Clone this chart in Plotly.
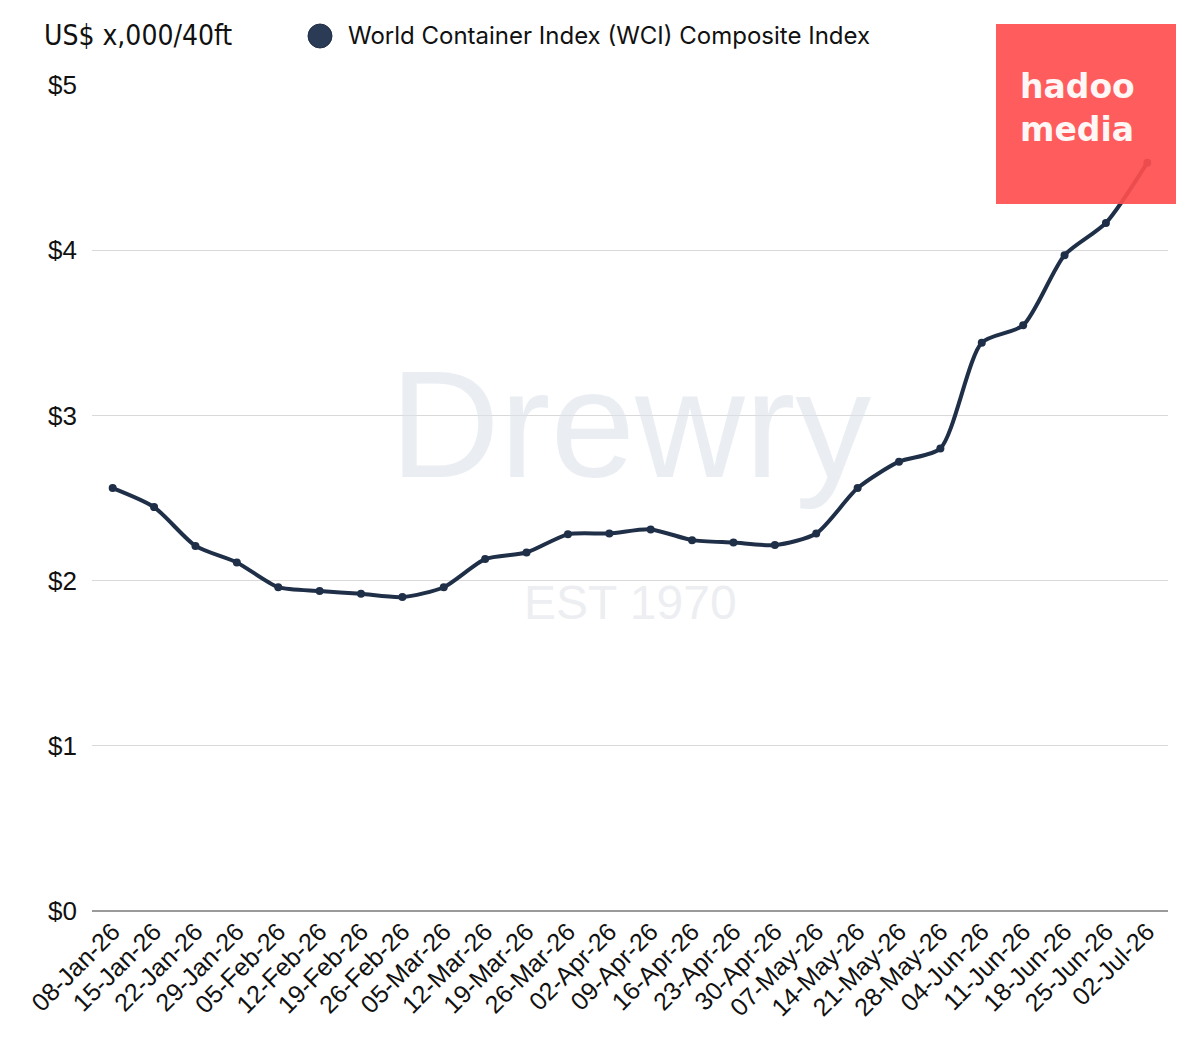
import plotly.graph_objects as go

dates = ["08-Jan-26", "15-Jan-26", "22-Jan-26", "29-Jan-26", "05-Feb-26", "12-Feb-26",
         "19-Feb-26", "26-Feb-26", "05-Mar-26", "12-Mar-26", "19-Mar-26", "26-Mar-26",
         "02-Apr-26", "09-Apr-26", "16-Apr-26", "23-Apr-26", "30-Apr-26", "07-May-26",
         "14-May-26", "21-May-26", "28-May-26", "04-Jun-26", "11-Jun-26", "18-Jun-26",
         "25-Jun-26", "02-Jul-26"]
wci = [2.56, 2.445, 2.21, 2.11, 1.96, 1.937, 1.92, 1.90, 1.96, 2.13, 2.17, 2.28,
       2.285, 2.31, 2.245, 2.23, 2.215, 2.285, 2.56, 2.72, 2.80, 3.44, 3.545, 3.97,
       4.165, 4.53]
series_name = "World Container Index (WCI) Composite Index"
y_title = "US$ x,000/40ft"

LINE = "#1f2f48"
L, R, T, B = 92, 32, 85, 128
PW, PH = 1200 - L - R, 1039 - T - B


def px(x):
    return (x - L) / PW


def py(y):
    return (1039 - B - y) / PH


fig = go.Figure()
fig.add_trace(go.Scatter(
    x=dates, y=wci, mode="lines+markers", showlegend=False,
    line=dict(color=LINE, width=4, shape="spline", smoothing=0.7),
    marker=dict(color=LINE, size=8),
))

# watermark
fig.add_annotation(text="Drewry", x=0.5, y=2.95, xref="paper", yref="y", xanchor="center",
                   showarrow=False, font=dict(family="Liberation Sans, Arial", size=152, color="rgba(220,226,235,0.6)"))
fig.add_annotation(text="EST 1970", x=0.5, y=1.87, xref="paper", yref="y", xanchor="center",
                   showarrow=False, font=dict(family="Liberation Sans, Arial", size=48, color="rgba(220,224,230,0.55)"))

# title
fig.add_annotation(text=y_title, xref="paper", yref="paper", x=px(42), y=py(36),
                   xanchor="left", yanchor="middle", showarrow=False,
                   font=dict(family="DejaVu Sans Condensed, Liberation Sans Narrow, Arial Narrow", size=28, color="#111"))

# legend (custom)
fig.add_shape(type="circle", xref="paper", yref="paper",
              x0=px(308), x1=px(332), y0=py(48), y1=py(24),
              fillcolor="#2b3a55", line=dict(color="#1f2f48", width=1))
fig.add_annotation(text=series_name, xref="paper", yref="paper", x=px(346), y=py(36),
                   xanchor="left", yanchor="middle", showarrow=False,
                   font=dict(family="Inter, Liberation Sans", size=24, color="#111"))

# hadoo media badge
fig.add_shape(type="rect", xref="paper", yref="paper",
              x0=px(996), x1=px(1176), y0=py(204), y1=py(24),
              fillcolor="#ff4f4f", opacity=0.92, line=dict(width=0), layer="above")
fig.add_annotation(text="<b>hadoo<br>media</b>", xref="paper", yref="paper",
                   x=px(1018), y=py(108), xanchor="left", yanchor="middle",
                   showarrow=False, align="left",
                   font=dict(family="DejaVu Sans, Arial", size=33, color="#fff6f6"))

fig.update_layout(
    width=1200, height=1039,
    margin=dict(l=L, r=R, t=T, b=B),
    paper_bgcolor="white", plot_bgcolor="white",
    font=dict(family="Liberation Sans, Arial, Helvetica", color="#111"),
    showlegend=False,
    xaxis=dict(type="category", tickangle=-45, showgrid=False, showline=False,
               tickfont=dict(size=25, color="#111"), ticks="",
               range=[-0.5, len(dates) - 0.5]),
    yaxis=dict(range=[0, 5], dtick=1, tickprefix="$", showgrid=True,
               gridcolor="#d9d9d9", gridwidth=1, zeroline=True, zerolinecolor="#9a9a9a",
               zerolinewidth=1.5, tickfont=dict(size=26, color="#111"),
               ticklabelstandoff=14, showline=False),
)

fig.write_html("out.html")
